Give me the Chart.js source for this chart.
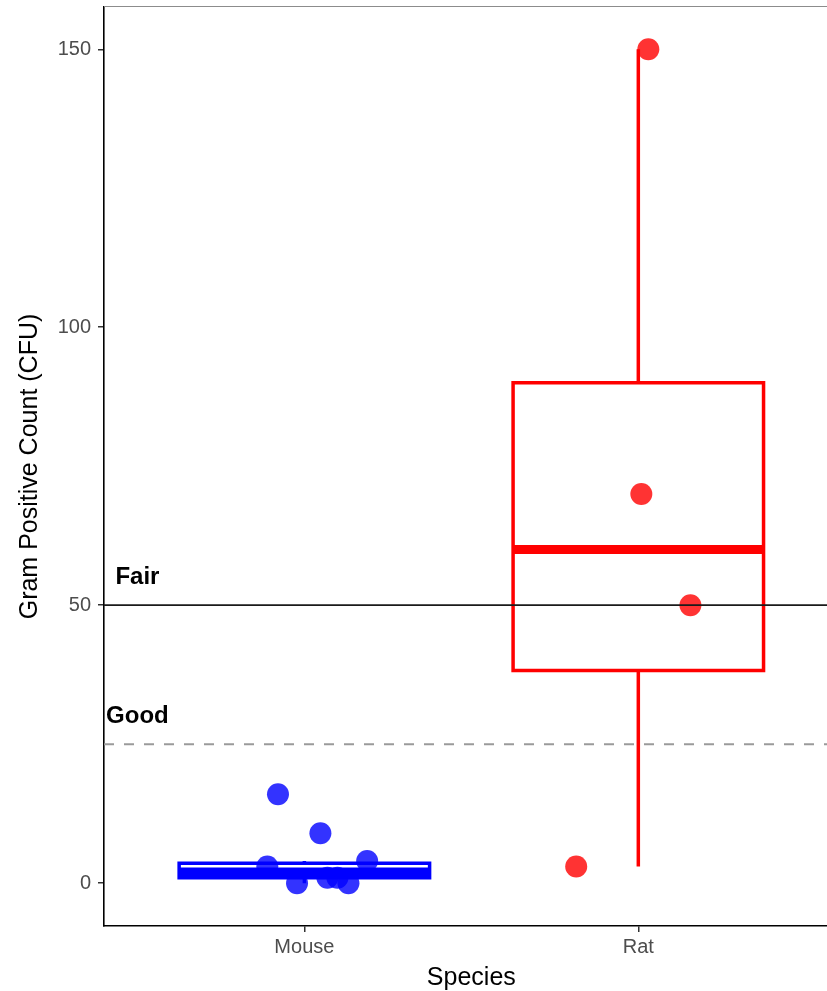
<!DOCTYPE html>
<html>
<head>
<meta charset="utf-8">
<script src="https://cdn.jsdelivr.net/npm/chart.js@4.4.1/dist/chart.umd.min.js"></script>
<style>
  html, body { margin: 0; background: #fff; }
  #wrap { width: 827px; height: 991px; position: relative; }
</style>
</head>
<body>
<div id="wrap"><canvas id="chart"></canvas></div>
<script>
// --- data ---
const groups = ['Mouse', 'Rat'];
const groupX = [1, 2];

// jittered points (x = jittered group position)
const mouseCounts = [16, 9, 3, 4, 0, 0, 1, 1];
const mouseJitter = [0.921, 1.048, 0.889, 1.188, 0.978, 1.132, 1.069, 1.099];
const ratCounts = [150, 70, 50, 3];
const ratJitter = [2.03, 2.009, 2.156, 1.814];

// box stats per group
const whiskerLow = [0, 3];
const boxQ1 = [1, 38.25];
const boxMedian = [2, 60];
const boxQ3 = [3.6, 90];
const whiskerHigh = [4, 150];

const yTicks = [0, 50, 100, 150];
const thresholds = [50, 25];
const thresholdLabels = ['Fair', 'Good'];
const thresholdLabelY = [55, 30];
const thresholdLabelX = 0.5;

// --- layout / style ---
const X_MIN = 0.4, X_MAX = 2.565;
const BOX_HALF = 0.375;
const lineColors = ['#0000ff', '#ff0000'];
const dotColors = ['rgba(0,0,255,0.8)', 'rgba(255,0,0,0.8)'];
const FONT = '"Liberation Sans", Arial, Helvetica, sans-serif';

function boxDatasets(i) {
  const c = groupX[i], l = c - BOX_HALF, r = c + BOX_HALF;
  const base = { showLine: true, pointRadius: 0, borderColor: lineColors[i], order: 2 };
  return [
    { ...base, borderWidth: 3.5, spanGaps: false,
      data: [{x: c, y: whiskerLow[i]}, {x: c, y: boxQ1[i]}, {x: c, y: null},
             {x: c, y: boxQ3[i]}, {x: c, y: whiskerHigh[i]}] },
    { ...base, borderWidth: 3.5, borderCapStyle: 'square', borderJoinStyle: 'miter',
      data: [{x: l, y: boxQ1[i]}, {x: r, y: boxQ1[i]}, {x: r, y: boxQ3[i]},
             {x: l, y: boxQ3[i]}, {x: l, y: boxQ1[i]}] },
    { ...base, borderWidth: 9, borderCapStyle: 'butt',
      data: [{x: l, y: boxMedian[i]}, {x: r, y: boxMedian[i]}] }
  ];
}

const pointSets = [
  { data: mouseCounts.map((v, k) => ({x: mouseJitter[k], y: v})), backgroundColor: dotColors[0] },
  { data: ratCounts.map((v, k) => ({x: ratJitter[k], y: v})), backgroundColor: dotColors[1] }
].map(d => ({ ...d, pointRadius: 11, borderWidth: 0, showLine: false, order: 1 }));

const lineSets = [
  { data: [{x: X_MIN, y: thresholds[0]}, {x: 2.6, y: thresholds[0]}],
    borderColor: '#1a1a1a', borderWidth: 1.8 },
  { data: [{x: X_MIN, y: thresholds[1]}, {x: 2.6, y: thresholds[1]}],
    borderColor: '#9a9a9a', borderWidth: 2, borderDash: [10, 10] }
].map(d => ({ ...d, showLine: true, pointRadius: 0, order: 0 }));

// text labels, axis titles, frame line
const overlay = {
  id: 'overlay',
  afterDraw(chart) {
    const { ctx, chartArea: a, scales: { x, y } } = chart;
    ctx.save();
    ctx.strokeStyle = '#8c8c8c';
    ctx.lineWidth = 1.2;
    ctx.beginPath();
    ctx.moveTo(a.left, a.top - 0.5);
    ctx.lineTo(a.right, a.top - 0.5);
    ctx.stroke();

    ctx.fillStyle = '#000';
    ctx.font = 'bold 24px ' + FONT;
    ctx.textAlign = 'center';
    ctx.textBaseline = 'middle';
    thresholdLabels.forEach((t, k) => {
      ctx.fillText(t, x.getPixelForValue(thresholdLabelX), y.getPixelForValue(thresholdLabelY[k]));
    });

    ctx.font = '25px ' + FONT;
    ctx.textBaseline = 'alphabetic';
    ctx.fillText('Species', x.getPixelForValue(1.5), 985);

    ctx.translate(37, (a.top + a.bottom) / 2);
    ctx.rotate(-Math.PI / 2);
    ctx.fillText('Gram Positive Count (CFU)', 0, 0);
    ctx.restore();
  }
};

new Chart(document.getElementById('chart'), {
  type: 'scatter',
  data: { datasets: [...lineSets, ...pointSets, ...boxDatasets(0), ...boxDatasets(1)] },
  options: {
    responsive: true,
    maintainAspectRatio: false,
    animation: false,
    layout: { autoPadding: false, padding: { top: 7, right: 0, bottom: 0, left: 0 } },
    plugins: { legend: { display: false }, tooltip: { enabled: false } },
    scales: {
      x: {
        type: 'linear', min: X_MIN, max: X_MAX,
        afterBuildTicks: s => { s.ticks = groupX.map(v => ({ value: v })); },
        afterFit: s => { s.height = 65; s.paddingLeft = 0; s.paddingRight = 0; },
        grid: { drawOnChartArea: false, tickLength: 6, color: '#333', lineWidth: 1.5 },
        border: { display: true, color: '#000', width: 1.6 },
        ticks: { color: '#4d4d4d', font: { size: 20, family: FONT }, padding: 3,
                 callback: (v, i) => groups[i] }
      },
      y: {
        min: -7.7, max: 157.6,
        afterBuildTicks: s => { s.ticks = yTicks.map(v => ({ value: v })); },
        afterFit: s => { s.width = 104; s.paddingTop = 0; s.paddingBottom = 0; },
        grid: { drawOnChartArea: false, tickLength: 6, color: '#333', lineWidth: 1.5 },
        border: { display: true, color: '#000', width: 1.6 },
        ticks: { color: '#4d4d4d', font: { size: 20, family: FONT }, padding: 7 }
      }
    }
  },
  plugins: [overlay]
});
</script>
</body>
</html>
